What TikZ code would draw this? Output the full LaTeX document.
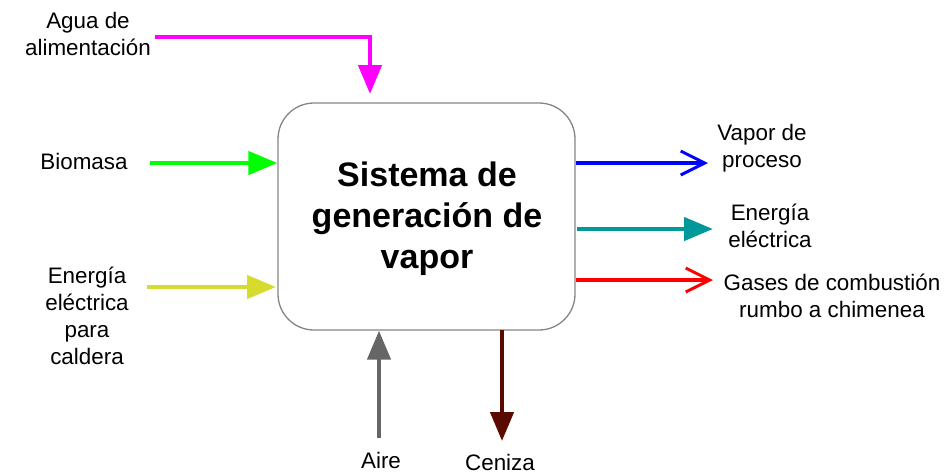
\documentclass[tikz,border=0pt]{standalone}
\usepackage{fontspec}
\setmainfont{Liberation Sans}
\usetikzlibrary{arrows.meta}
\definecolor{cMag}{HTML}{FF00FF}
\definecolor{cGreen}{HTML}{00FF00}
\definecolor{cYel}{HTML}{D6DB2E}
\definecolor{cBlue}{HTML}{0000FF}
\definecolor{cTeal}{HTML}{009999}
\definecolor{cRed}{HTML}{FF0000}
\definecolor{cGrey}{HTML}{666666}
\definecolor{cBrown}{HTML}{5A0A00}
\tikzset{
  lbl/.style={align=center, inner sep=0pt, font=\fontsize{22.4}{27}\selectfont},
  flow/.style={line width=4.5pt},
  solidtip/.style={-{Triangle[length=29pt,width=23pt]}},
  opentip/.style={-{Straight Barb[length=24pt,width=24pt,line width=3pt]}},
}
\begin{document}
\begin{tikzpicture}[x=1pt,y=-1pt]
\useasboundingbox (0,0) rectangle (945,475);
\node[draw=cGrey!80, line width=1.3pt, rounded corners=36pt, minimum width=297pt, minimum height=227pt, inner sep=0pt] (box) at (426.5,216.5) {};
\node[align=center, font=\fontsize{34}{41}\selectfont\bfseries] (title) at (427,219) {Sistema de\\generación de\\vapor};
% labels
\node[lbl] (agua) at (88,34) {Agua de\\alimentación};
\node[lbl] (bio) at (84,161) {Biomasa};
\node[lbl] (eec) at (87,316) {Energía\\eléctrica\\para\\caldera};
\node[lbl] (vap) at (762,148) {Vapor de\\proceso};
\node[lbl] (ee) at (770,226) {Energía\\eléctrica};
\node[lbl] (gas) at (832,296) {Gases de combustión\\rumbo a chimenea};
\node[lbl] (aire) at (381,460) {Aire};
\node[lbl] (cen) at (500,462) {Ceniza};
% coordinates
\coordinate (m0) at (155,37);
\coordinate (m1) at (370,37);
\coordinate (m2) at (370,94);
\coordinate (g0) at (150,163);
\coordinate (g1) at (box.west |- g0);
\coordinate (y0) at (147,287);
\coordinate (y1) at (276,287);
\coordinate (b0) at (box.east |- 0,163);
\coordinate (b1) at (708,163);
\coordinate (t0) at (577,229);
\coordinate (t1) at (713,229);
\coordinate (r0) at (box.east |- 0,280);
\coordinate (r1) at (713,280);
\coordinate (a0) at (379,438);
\coordinate (a1) at (a0 |- box.south);
\coordinate (c0) at (502,330);
\coordinate (c1) at (502,441);
% arrows
\draw[flow, cMag, solidtip] (m0) -- (m1) -- (m2);
\draw[flow, cGreen, solidtip] (g0) -- (g1);
\draw[flow, cYel, solidtip] (y0) -- (y1);
\draw[flow, cBlue, opentip] (b0) -- (b1);
\draw[flow, cTeal, solidtip] (t0) -- (t1);
\draw[flow, cRed, opentip] (r0) -- (r1);
\draw[flow, cGrey, solidtip] (a0) -- (a1);
\draw[flow, cBrown, solidtip] (c0) -- (c1);
\end{tikzpicture}
\end{document}
